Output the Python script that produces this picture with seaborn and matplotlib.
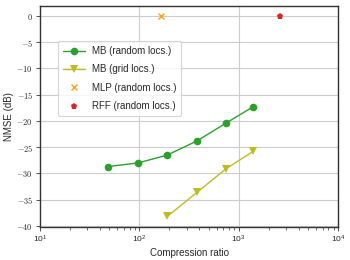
import numpy as np
import pandas as pd
import seaborn as sns
import matplotlib.pyplot as plt
from matplotlib.ticker import FuncFormatter

# data
mb_rand_x = [48, 97, 191, 381, 747, 1396]
mb_rand_y = [-28.7, -28.0, -26.5, -23.8, -20.4, -17.3]
mb_grid_x = [191, 381, 747, 1396]
mb_grid_y = [-38.2, -33.6, -29.1, -25.8]
mlp_x = [165]
mlp_y = [0.0]
rff_x = [2610]
rff_y = [0.0]

sns.set_style('whitegrid')
plt.rcParams['font.family'] = ['Liberation Sans', 'DejaVu Sans']
plt.rcParams['mathtext.fontset'] = 'cm'

fig = plt.figure(figsize=(3.5, 2.6), dpi=100)
ax = fig.add_axes([0.114, 0.127, 0.852, 0.85])

df_rand = pd.DataFrame({'x': mb_rand_x, 'y': mb_rand_y})
df_grid = pd.DataFrame({'x': mb_grid_x, 'y': mb_grid_y})

sns.lineplot(data=df_rand, x='x', y='y', ax=ax, color='#2ca02c', marker='o',
             markersize=5.5, markeredgewidth=0, linewidth=1.0, label='MB (random locs.)')
sns.lineplot(data=df_grid, x='x', y='y', ax=ax, color='#bcbd22', marker='v',
             markersize=6, markeredgewidth=0, linewidth=1.0, label='MB (grid locs.)')
ax.plot(mlp_x, mlp_y, linestyle='none', marker='x', color='#ff9f1c',
        markersize=4, markeredgewidth=1.0, label='MLP (random locs.)')
ax.plot(rff_x, rff_y, linestyle='none', marker='p', color='#d62728',
        markersize=5, markeredgewidth=0, label='RFF (random locs.)')

ax.set_xscale('log')
ax.set_xlim(10, 10000)
ax.set_ylim(-40.2, 1.9)
ax.set_yticks(np.arange(-40, 1, 5))
ax.yaxis.set_major_formatter(FuncFormatter(lambda v, p: r'$%d$' % v))
ax.set_xlabel('Compression ratio', fontsize=7, labelpad=2)
ax.set_ylabel('NMSE (dB)', fontsize=7, labelpad=2)

ax.grid(True, which='major', color='#cccccc', linewidth=0.8)
ax.grid(False, which='minor')
ax.tick_params(axis='both', which='major', labelsize=6, length=3, width=0.6,
               direction='out', left=True, bottom=True, pad=2, color='#333333')
ax.tick_params(axis='x', which='minor', length=1.8, width=0.5, bottom=True, color='#333333')
for s in ax.spines.values():
    s.set_color('#333333')
    s.set_linewidth(1.0)

leg = ax.legend(loc='upper left', bbox_to_anchor=(0.06, 0.84), fontsize=7,
                frameon=True, fancybox=True, handlelength=2.3, borderpad=0.5,
                labelspacing=0.85, handletextpad=0.7, borderaxespad=0)
leg.get_frame().set_edgecolor('#cccccc')
leg.get_frame().set_linewidth(0.8)

fig.savefig('out.png', dpi=100)
